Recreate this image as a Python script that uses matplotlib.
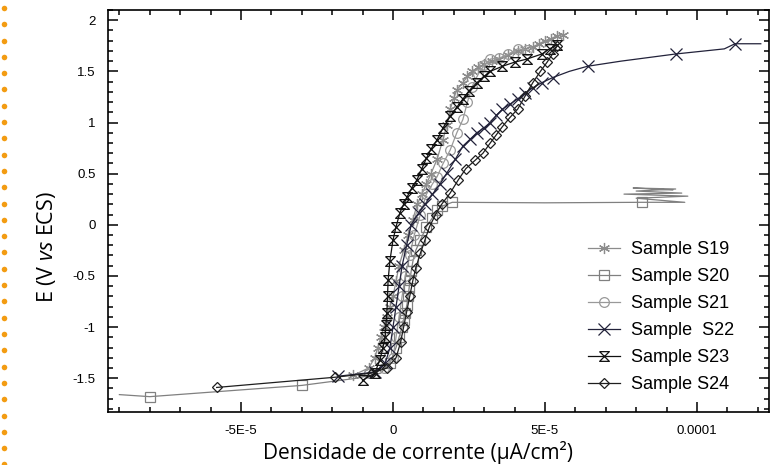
import numpy as np
import matplotlib.pyplot as plt
from matplotlib.path import Path
from matplotlib.lines import Line2D
from matplotlib.ticker import MultipleLocator

plt.rcParams['font.family'] = ['Liberation Sans', 'DejaVu Sans']
plt.rcParams['mathtext.fontset'] = 'custom'
plt.rcParams['mathtext.rm'] = 'Open Sans'
plt.rcParams['mathtext.it'] = 'Open Sans:italic'
plt.rcParams['axes.unicode_minus'] = False

UNIT = 1e-5  # current values below are in 1E-5 units

# Sample S19 (asterisk)
s19_i = [-1.3, -0.8, -0.6, -0.5, -0.4, -0.3, -0.2, -0.1, 0.0, 0.1, 0.2, 0.35, 0.5, 0.65,
         0.8, 0.95, 1.1, 1.25, 1.45, 1.64, 1.78, 1.88, 2.0, 2.1, 2.3, 2.45, 2.6, 2.8, 3.0,
         3.25, 3.5, 3.8, 4.1, 4.35, 4.6, 4.8, 5.0, 5.2, 5.4, 5.6]
s19_e = [-1.47, -1.4, -1.3, -1.2, -1.1, -1.0, -0.9, -0.8, -0.7, -0.55, -0.4, -0.25, -0.1, 0.05,
         0.2, 0.3, 0.4, 0.5, 0.64, 0.83, 0.98, 1.13, 1.24, 1.32, 1.39, 1.45, 1.5, 1.54, 1.57,
         1.6, 1.62, 1.66, 1.7, 1.72, 1.74, 1.77, 1.8, 1.82, 1.85, 1.86]

# Sample S20 (square) - ends with a noisy burst near 0.25 V
s20_i = [-9.0, -8.0, -3.0, -1.2, -0.4, -0.1, 0.1, 0.2, 0.3, 0.35, 0.4, 0.46, 0.5, 0.53, 0.56,
         0.6, 0.66, 0.75, 0.9, 1.1, 1.3, 1.45, 1.6, 1.95, 5.0, 8.2,
         9.6, 8.0, 9.7, 7.6, 9.5, 8.0, 9.3, 7.9, 9.2]
s20_e = [-1.66, -1.68, -1.57, -1.5, -1.45, -1.35, -1.2, -1.1, -1.0, -0.93, -0.86, -0.78, -0.7,
         -0.62, -0.54, -0.45, -0.35, -0.25, -0.15, -0.02, 0.07, 0.14, 0.18, 0.22, 0.215, 0.22,
         0.22, 0.26, 0.28, 0.30, 0.31, 0.33, 0.35, 0.36, 0.34]
s20_marks = [1, 2] + list(range(5, 24)) + [25]

# Sample S21 (circle)
s21_i = [-0.8, -0.3, 0.0, 0.1, 0.2, 0.3, 0.4, 0.55, 0.7, 0.9, 1.1, 1.3, 1.45, 1.65, 1.88,
         2.1, 2.3, 2.45, 2.6, 2.8, 3.0, 3.2, 3.5, 3.8, 4.1, 4.4]
s21_e = [-1.45, -1.4, -1.3, -1.1, -0.9, -0.7, -0.5, -0.3, -0.1, 0.1, 0.3, 0.4, 0.47, 0.6, 0.73,
         0.9, 1.03, 1.2, 1.35, 1.47, 1.56, 1.62, 1.63, 1.67, 1.72, 1.71]

# Sample S22 (cross)
s22_i = [-1.8, -0.6, -0.25, -0.1, 0.0, 0.1, 0.2, 0.3, 0.45, 0.6, 0.85, 1.05, 1.3, 1.55, 1.78,
         2.05, 2.3, 2.55, 2.76, 3.0, 3.2, 3.4, 3.6, 3.85, 4.1, 4.35, 4.6, 4.9, 5.26, 5.8,
         6.4, 7.5, 9.3, 10.9, 11.25, 12.1]
s22_e = [-1.48, -1.44, -1.35, -1.2, -1.0, -0.8, -0.6, -0.4, -0.2, 0.0, 0.12, 0.2, 0.3, 0.4,
         0.51, 0.64, 0.77, 0.84, 0.9, 0.95, 1.0, 1.07, 1.13, 1.18, 1.23, 1.29, 1.34, 1.39,
         1.44, 1.5, 1.55, 1.6, 1.67, 1.72, 1.77, 1.77]
s22_marks = list(range(0, 29)) + [30, 32, 34]

# Sample S23 (hourglass)
s23_i = [-1.0, -0.6, -0.43, -0.33, -0.26, -0.23, -0.2, -0.18, -0.16, -0.1, 0.0, 0.1, 0.23,
         0.35, 0.46, 0.62, 0.79, 0.95, 1.1, 1.25, 1.45, 1.65, 1.88, 2.1, 2.3, 2.5, 2.76, 3.0,
         3.2, 3.6, 4.0, 4.4, 4.9, 5.15, 5.4]
s23_e = [-1.52, -1.45, -1.32, -1.2, -1.1, -0.98, -0.86, -0.7, -0.54, -0.35, -0.15, -0.02,
         0.12, 0.2, 0.27, 0.36, 0.44, 0.55, 0.65, 0.74, 0.83, 0.95, 1.06, 1.15, 1.23, 1.31,
         1.39, 1.45, 1.5, 1.55, 1.59, 1.62, 1.67, 1.72, 1.76]

# Sample S24 (diamond)
s24_i = [-5.8, -1.9, -0.7, -0.2, 0.1, 0.25, 0.35, 0.45, 0.55, 0.65, 0.75, 0.9, 1.05, 1.2,
         1.4, 1.6, 1.88, 2.15, 2.4, 2.7, 2.96, 3.2, 3.4, 3.6, 3.85, 4.1, 4.35, 4.6, 4.85,
         5.07, 5.25, 5.4]
s24_e = [-1.59, -1.49, -1.45, -1.4, -1.3, -1.15, -1.0, -0.85, -0.7, -0.55, -0.42, -0.28,
         -0.15, -0.02, 0.1, 0.2, 0.31, 0.44, 0.55, 0.63, 0.7, 0.8, 0.88, 0.96, 1.05, 1.13,
         1.26, 1.39, 1.5, 1.59, 1.67, 1.75]

labels = ['Sample S19', 'Sample S20', 'Sample S21', 'Sample  S22', 'Sample S23', 'Sample S24']

hourglass = Path([(-1, 1), (1, 1), (-1, -1), (1, -1), (-1, 1)])

fig = plt.figure(figsize=(7.78, 4.65), dpi=100)
ax = fig.add_axes([108 / 778, 1 - 412 / 465, (769 - 108) / 778, (412 - 10) / 465])

series = [
    (s19_i, s19_e, (6, 2, 0), '#8c8c8c', 8, None),
    (s20_i, s20_e, 's', '#808080', 7, s20_marks),
    (s21_i, s21_e, 'o', '#999999', 7, None),
    (s22_i, s22_e, 'x', '#22223a', 8, s22_marks),
    (s23_i, s23_e, hourglass, '#111111', 7, None),
    (s24_i, s24_e, 'D', '#1e1e1e', 5.5, None),
]

for (xi, ye, mk, col, ms, every), lab in zip(series, labels):
    ax.plot(np.array(xi) * UNIT, ye, color=col, lw=0.9, marker=mk, ms=ms,
            mfc='none', mec=col, mew=0.9, markevery=every, label=lab)

ax.set_xlim(-9.375e-5, 1.237e-4)
ax.set_ylim(-1.83, 2.1)

ax.set_xticks([-5e-5, 0, 5e-5, 1e-4], ['-5E-5', '0', '5E-5', '0.0001'])
ax.set_yticks([-1.5, -1, -0.5, 0, 0.5, 1, 1.5, 2],
              ['-1.5', '-1', '-0.5', '0', '0.5', '1', '1.5', '2'])
ax.xaxis.set_minor_locator(MultipleLocator(1e-5))
ax.yaxis.set_minor_locator(MultipleLocator(0.1))
ax.tick_params(which='both', direction='in', top=True, right=True, width=1.1,
               labelsize=9.5, colors='black')
ax.tick_params(which='major', length=7, pad=9)
ax.tick_params(which='minor', length=3.5)
for sp in ax.spines.values():
    sp.set_linewidth(1.2)

ax.set_xlabel('Densidade de corrente (μA/cm²)', family='Open Sans', fontsize=15)
ax.set_ylabel(r'E (V $\mathit{vs}$ ECS)', family='Open Sans', fontsize=15.5)
ax.xaxis.set_label_coords(0.469, -0.072)
ax.yaxis.set_label_coords(-0.076, 0.41)

ax.legend(loc='upper left', bbox_to_anchor=(0.712, 0.447), frameon=False, fontsize=13,
          handlelength=1.8, handletextpad=0.6, labelspacing=0.55, borderpad=0)

# orange dotted rule at the left edge
dots_y = np.arange(8, 465, 16.3)
fig.add_artist(Line2D(np.full(len(dots_y), 4 / 778), 1 - dots_y / 465, ls='none',
                      marker='o', ms=4, color='#f39c12', mec='none',
                      transform=fig.transFigure))

fig.savefig('out.png', dpi=100)
